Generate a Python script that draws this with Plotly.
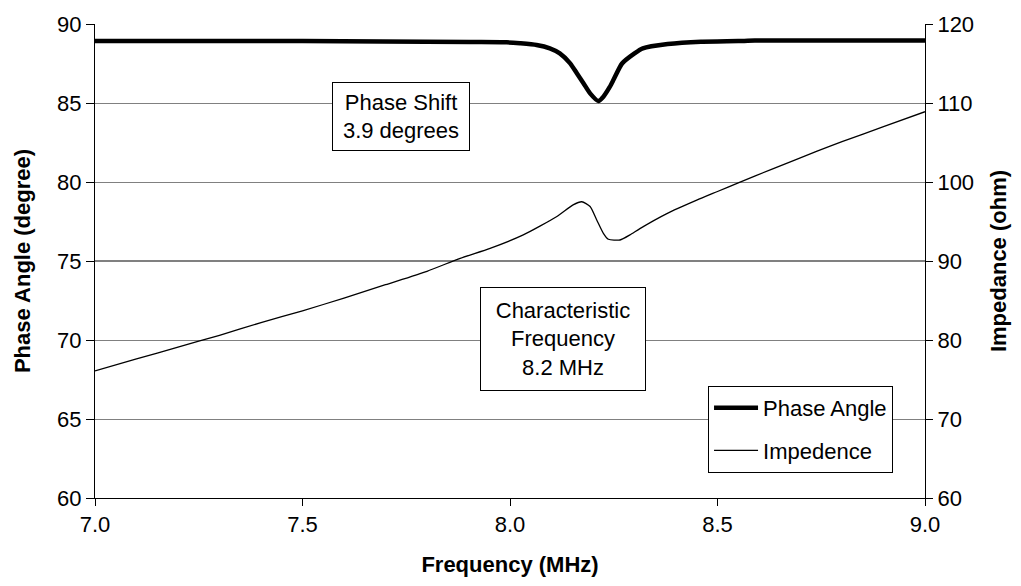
import plotly.graph_objects as go

# Phase angle sweep (degrees) vs frequency (MHz)
freq_phase = [7.0, 7.5, 7.904, 7.992, 8.024, 8.064, 8.096, 8.12, 8.145, 8.161,
              8.177, 8.193, 8.213, 8.225, 8.24, 8.25, 8.27, 8.30, 8.32, 8.38,
              8.46, 8.55, 8.59, 9.0]
phase = [88.93, 88.93, 88.86, 88.84, 88.78, 88.67, 88.46, 88.14, 87.51, 86.88,
         86.25, 85.61, 85.13, 85.4, 86.0, 86.5, 87.5, 88.14, 88.46, 88.73,
         88.88, 88.92, 88.95, 88.95]

# Impedance sweep (ohm) vs frequency (MHz)
freq_imp = [7.0, 7.1, 7.2, 7.3, 7.4, 7.5, 7.6, 7.7, 7.8, 7.88, 7.952, 8.032,
            8.112, 8.152, 8.173, 8.193, 8.209, 8.225, 8.237, 8.265, 8.289, 8.313,
            8.378, 8.45, 8.5, 8.55, 8.63, 8.74, 8.8, 8.9, 9.0]
impedance = [76.1, 77.6, 79.1, 80.6, 82.2, 83.7, 85.3, 87.0, 88.7, 90.34, 91.6, 93.3,
             95.6, 97.1, 97.5, 96.9, 95.2, 93.5, 92.75, 92.66, 93.3, 94.1,
             96.0, 97.7, 98.8, 99.9, 101.6, 103.9, 105.1, 107.0, 108.9]

x_ticks = [7.0, 7.5, 8.0, 8.5, 9.0]
phase_ticks = [60, 65, 70, 75, 80, 85, 90]
imp_ticks = [60, 70, 80, 90, 100, 110, 120]

FONT = "Liberation Sans, Arial, sans-serif"
FS = 22

fig = go.Figure()
fig.add_trace(go.Scatter(
    x=freq_phase, y=phase, name="Phase Angle", mode="lines",
    line=dict(color="black", width=4.5, shape="spline", smoothing=0.6),
    legendgroup="a", yaxis="y"))
fig.add_trace(go.Scatter(
    x=freq_imp, y=impedance, name="Impedence", mode="lines",
    line=dict(color="black", width=1.3, shape="spline", smoothing=0.6),
    legendgroup="b", yaxis="y2"))

fig.update_layout(
    width=1021, height=586,
    margin=dict(l=95, r=96, t=24, b=88),
    paper_bgcolor="white", plot_bgcolor="white",
    font=dict(family=FONT, size=FS, color="black"),
    xaxis=dict(
        range=[7.0, 9.0], tickvals=x_ticks, tickformat=".1f",
        showgrid=False, zeroline=False,
        showline=True, linecolor="black", linewidth=1,
        ticks="outside", ticklen=7, tickcolor="black",
        title=dict(text="<b>Frequency (MHz)</b>", standoff=20,
                   font=dict(size=FS)),
    ),
    yaxis=dict(
        range=[60, 90], tickvals=phase_ticks,
        showgrid=True, gridcolor="#808080", gridwidth=1, zeroline=False,
        showline=True, linecolor="black", linewidth=1,
        ticks="outside", ticklen=8, tickcolor="black",
        title=dict(text="<b>Phase Angle (degree)</b>", standoff=20,
                   font=dict(size=FS)),
    ),
    yaxis2=dict(
        range=[60, 120], tickvals=imp_ticks, overlaying="y", side="right",
        showgrid=False, zeroline=False,
        showline=True, linecolor="black", linewidth=1,
        ticks="outside", ticklen=7, tickcolor="black",
        title=dict(text="<b>Impedance (ohm)</b>", standoff=17,
                   font=dict(size=FS)),
    ),
    legend=dict(
        x=0.7386, y=0.2363, xanchor="left", yanchor="top",
        bgcolor="white", bordercolor="black", borderwidth=1,
        font=dict(size=FS), traceorder="grouped", tracegroupgap=11,
        itemwidth=44,
    ),
    showlegend=True,
)

# darker gridline at 75 degrees
fig.add_shape(type="line", xref="x", yref="y", x0=7.0, x1=9.0, y0=75, y1=75,
              line=dict(color="black", width=1), layer="below")

fig.add_annotation(
    xref="paper", yref="paper", x=0.3687, y=0.8054,
    xanchor="center", yanchor="middle",
    text="Phase Shift<br>3.9 degrees", showarrow=False,
    bgcolor="white", bordercolor="black", borderwidth=1, borderpad=3,
    width=130, height=61, font=dict(size=FS),
)
fig.add_annotation(
    xref="paper", yref="paper", x=0.5639, y=0.3354,
    xanchor="center", yanchor="middle",
    text="Characteristic<br>Frequency<br>8.2 MHz", showarrow=False,
    bgcolor="white", bordercolor="black", borderwidth=1, borderpad=3,
    width=158, height=96, font=dict(size=FS),
)

fig.write_html("out.html")
